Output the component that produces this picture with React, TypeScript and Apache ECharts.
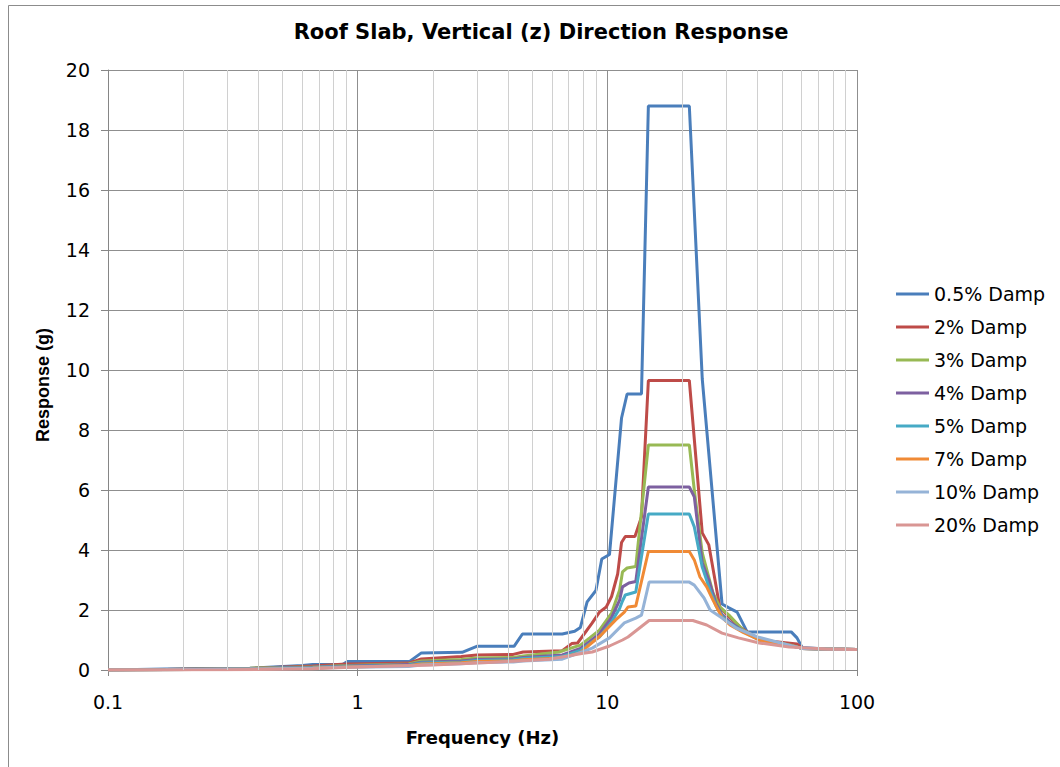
import React, { useEffect, useRef } from 'react';
import * as echarts from 'echarts';

const titleText = 'Roof Slab, Vertical (z) Direction Response';
const xAxisName = 'Frequency (Hz)';
const yAxisName = 'Response (g)';
const xTickLabels = ['0.1', '1', '10', '100'];
const minorGridFreqs = [0.2, 0.3, 0.4, 0.5, 0.6, 0.7, 0.8, 0.9, 2, 3, 4, 5, 6, 7, 8, 9, 20, 30, 40, 50, 60, 70, 80, 90];

const seriesNames = ['0.5% Damp', '2% Damp', '3% Damp', '4% Damp', '5% Damp', '7% Damp', '10% Damp', '20% Damp'];
const seriesColors = ['#4A7EBB', '#BE4B48', '#98B954', '#7D60A0', '#46AAC5', '#F08A35', '#95B3D7', '#D99694'];

// [frequency (Hz), response (g)]
const damp05: [number, number][] = [
  [0.1, 0], [0.17, 0.03], [0.37, 0.06], [0.6, 0.15], [0.66, 0.18], [0.87, 0.18], [0.91, 0.28], [1.61, 0.28],
  [1.8, 0.57], [2.62, 0.59], [3.0, 0.79], [4.23, 0.79], [4.57, 1.2], [6.6, 1.2], [7.4, 1.29], [7.8, 1.42],
  [8.3, 2.27], [9.0, 2.65], [9.5, 3.7], [10.2, 3.85], [11.4, 8.4], [12.0, 9.2], [13.7, 9.2], [14.6, 18.8],
  [21.3, 18.8], [24.0, 9.7], [28.8, 2.2], [30.7, 2.07], [33.1, 1.93], [36.3, 1.27], [54.5, 1.27], [57.5, 1.07],
  [60.3, 0.75], [75, 0.7], [100, 0.68],
];
const damp2: [number, number][] = [
  [0.1, 0], [0.17, 0.02], [0.37, 0.05], [0.66, 0.13], [0.9, 0.2], [1.6, 0.23], [1.8, 0.37], [2.6, 0.45],
  [3.0, 0.5], [4.2, 0.52], [4.6, 0.6], [6.6, 0.64], [7.2, 0.88], [7.6, 0.9], [8.7, 1.57], [9.3, 1.93],
  [9.9, 2.1], [10.4, 2.45], [11.0, 3.2], [11.4, 4.25], [11.8, 4.45], [12.9, 4.45], [13.7, 5.1], [14.6, 9.65],
  [21.3, 9.65], [24.0, 4.57], [25.5, 4.17], [28.2, 2.1], [30.7, 1.77], [34.4, 1.4], [40.6, 1.0], [57.5, 0.87],
  [60.3, 0.72], [75, 0.7], [100, 0.68],
];
const damp3: [number, number][] = [
  [0.1, 0], [0.17, 0.02], [0.37, 0.06], [0.66, 0.1], [0.9, 0.15], [1.6, 0.2], [1.8, 0.3], [2.6, 0.35],
  [3.0, 0.4], [4.2, 0.42], [4.6, 0.47], [6.4, 0.6], [7.8, 0.83], [8.5, 1.07], [9.3, 1.33], [10.4, 1.9],
  [11.2, 2.67], [11.5, 3.27], [12.0, 3.4], [13.0, 3.45], [14.6, 7.5], [21.3, 7.5], [22.3, 6.0], [24.0, 3.9],
  [26.5, 2.57], [28.2, 2.1], [30.7, 1.83], [35.0, 1.33], [40.6, 1.03], [55, 0.82], [60.3, 0.72], [75, 0.7],
  [100, 0.68],
];
const damp4: [number, number][] = [
  [0.1, 0], [0.17, 0.02], [0.37, 0.05], [0.66, 0.09], [0.9, 0.13], [1.6, 0.18], [1.8, 0.26], [2.6, 0.3],
  [3.0, 0.35], [4.2, 0.37], [4.6, 0.42], [6.6, 0.5], [7.8, 0.72], [8.5, 0.95], [9.3, 1.2], [10.4, 1.75],
  [11.2, 2.33], [11.5, 2.77], [12.2, 2.9], [13.0, 2.95], [14.6, 6.1], [21.3, 6.1], [22.3, 5.77], [24.0, 3.57],
  [25.5, 3.0], [27.2, 2.23], [28.8, 1.85], [31, 1.6], [35, 1.3], [40.6, 1.02], [55, 0.8], [60.3, 0.72],
  [75, 0.7], [100, 0.68],
];
const damp5: [number, number][] = [
  [0.1, 0], [0.17, 0.01], [0.37, 0.04], [0.66, 0.08], [0.9, 0.12], [1.6, 0.16], [1.8, 0.23], [2.6, 0.27],
  [3.0, 0.32], [4.2, 0.34], [4.6, 0.38], [6.6, 0.45], [7.8, 0.65], [8.5, 0.88], [9.3, 1.1], [10.4, 1.6],
  [11.2, 2.05], [11.5, 2.3], [11.8, 2.5], [13.0, 2.6], [14.6, 5.2], [21.3, 5.2], [22.3, 4.77], [24.0, 3.43],
  [25.5, 2.77], [27.2, 2.15], [28.8, 1.8], [31, 1.55], [35, 1.28], [40.6, 1.0], [55, 0.8], [60.3, 0.72],
  [75, 0.7], [100, 0.68],
];
const damp7: [number, number][] = [
  [0.1, 0], [0.17, 0.01], [0.37, 0.03], [0.66, 0.07], [0.9, 0.1], [1.6, 0.14], [1.8, 0.2], [2.6, 0.24],
  [3.0, 0.28], [4.2, 0.3], [4.6, 0.34], [6.6, 0.4], [7.8, 0.58], [8.5, 0.85], [9.4, 1.15], [10.8, 1.67],
  [11.7, 1.93], [12.1, 2.1], [13.0, 2.13], [14.6, 3.95], [21.3, 3.95], [22.3, 3.67], [23.5, 3.1], [25.0, 2.77],
  [26.5, 2.33], [28.8, 1.75], [31, 1.5], [35, 1.25], [40.6, 1.0], [55, 0.8], [60.3, 0.72], [75, 0.7],
  [100, 0.68],
];
const damp10: [number, number][] = [
  [0.1, 0], [0.17, 0.01], [0.37, 0.03], [0.66, 0.06], [0.9, 0.09], [1.6, 0.12], [1.8, 0.17], [2.6, 0.21],
  [3.0, 0.24], [4.2, 0.27], [4.6, 0.3], [6.6, 0.36], [8.7, 0.73], [10.2, 1.07], [11.7, 1.57], [13.0, 1.73],
  [13.7, 1.83], [14.7, 2.93], [21.3, 2.93], [22.3, 2.83], [24.4, 2.4], [25.8, 2.0], [28.8, 1.73], [32.8, 1.4],
  [40, 1.1], [55, 0.8], [60.3, 0.72], [75, 0.7], [100, 0.68],
];
const damp20: [number, number][] = [
  [0.1, 0], [0.3, 0.01], [0.66, 0.04], [1.0, 0.1], [2.0, 0.17], [3.7, 0.27], [5.85, 0.36], [7.9, 0.55],
  [8.7, 0.6], [10.2, 0.8], [11.5, 1.0], [12.1, 1.1], [14.7, 1.65], [22, 1.65], [25, 1.5], [28.8, 1.23],
  [33.5, 1.07], [40.6, 0.9], [53.5, 0.77], [75, 0.7], [100, 0.68],
];
const seriesData = [damp05, damp2, damp3, damp4, damp5, damp7, damp10, damp20];

const FONT = 'DejaVu Sans';

export default function App() {
  const ref = useRef<HTMLDivElement>(null);
  useEffect(() => {
    document.body.style.margin = '0';
    const chart = echarts.init(ref.current!, null, { renderer: 'svg' });
    chart.setOption({
      animation: false,
      backgroundColor: '#ffffff',
      title: {
        text: titleText,
        left: 536,
        top: 16,
        textAlign: 'center',
        textStyle: { fontFamily: FONT, fontSize: 21, fontWeight: 'bold', color: '#000' },
      },
      graphic: [
        {
          type: 'rect',
          shape: { x: 8.5, y: 5.5, width: 1200, height: 900 },
          style: { fill: 'none', stroke: '#8c8c8c', lineWidth: 1 },
          silent: true,
          z: -10,
        },
      ],
      grid: { left: 108, right: 203, top: 70, bottom: 97, containLabel: false },
      legend: {
        orient: 'vertical',
        left: 896,
        top: 284,
        padding: 0,
        itemWidth: 33,
        itemHeight: 3,
        itemGap: 13,
        icon: 'rect',
        data: seriesNames,
        textStyle: { fontFamily: FONT, fontSize: 19, color: '#000', lineHeight: 20 },
      },
      xAxis: {
        type: 'log',
        logBase: 10,
        min: 0.1,
        max: 100,
        name: xAxisName,
        nameLocation: 'middle',
        nameGap: 58,
        nameTextStyle: { fontFamily: FONT, fontSize: 18, fontWeight: 'bold', color: '#000' },
        axisLine: { show: true, lineStyle: { color: '#868686', width: 1 } },
        axisTick: { show: true, length: 6, lineStyle: { color: '#868686' } },
        axisLabel: {
          margin: 22,
          fontFamily: FONT,
          fontSize: 19,
          color: '#000',
          formatter: (v: number) => xTickLabels[Math.round(Math.log10(v)) + 1] ?? '',
        },
        splitLine: { show: true, lineStyle: { color: '#8f8f8f', width: 1 } },
      },
      yAxis: {
        type: 'value',
        min: 0,
        max: 20,
        interval: 2,
        name: yAxisName,
        nameLocation: 'middle',
        nameGap: 56,
        nameRotate: 90,
        nameTextStyle: {
          fontFamily: 'Liberation Sans',
          fontSize: 18,
          fontWeight: 'bold',
          color: '#000',
          padding: [0, 30, 0, 0],
        },
        axisLine: { show: true, lineStyle: { color: '#868686', width: 1 } },
        axisTick: { show: true, length: 7, lineStyle: { color: '#868686' } },
        axisLabel: { margin: 18, fontFamily: FONT, fontSize: 19, color: '#000' },
        splitLine: { show: true, lineStyle: { color: '#8f8f8f', width: 1 } },
      },
      series: [
        {
          type: 'line',
          data: [],
          z: 1,
          silent: true,
          markLine: {
            silent: true,
            symbol: ['none', 'none'],
            label: { show: false },
            emphasis: { disabled: true },
            lineStyle: { color: '#d0d0d0', width: 1, type: 'solid' },
            data: minorGridFreqs.map((f) => ({ xAxis: f })),
          },
        },
        ...seriesNames.map((name, i) => ({
          name,
          type: 'line',
          data: seriesData[i],
          showSymbol: false,
          symbol: 'none',
          z: 2,
          color: seriesColors[i],
          lineStyle: { color: seriesColors[i], width: 3 },
          emphasis: { disabled: true },
        })),
      ],
    });
    return () => chart.dispose();
  }, []);
  return <div ref={ref} style={{ width: 1060, height: 767 }} />;
}
